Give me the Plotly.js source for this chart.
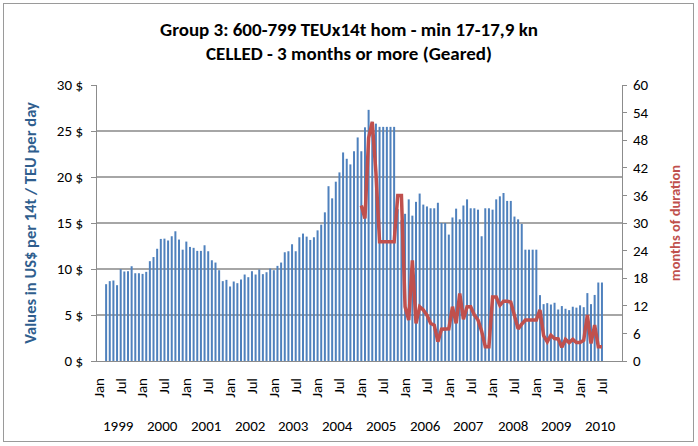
<!DOCTYPE html>
<html>
<head>
<meta charset="utf-8">
<script src="https://cdn.plot.ly/plotly-3.0.1.min.js"></script>
<style>
  html, body { margin: 0; padding: 0; background: #fff; }
  #wrap { position: relative; width: 698px; height: 446px; }
  #chart { position: absolute; left: 0; top: 0; width: 698px; height: 446px; }
  #frame { position: absolute; left: 3px; top: 3px; width: 691px; height: 439px; border: 1px solid #9a9a9a; box-sizing: border-box; pointer-events: none; }
</style>
</head>
<body>
<div id="wrap"><div id="chart"></div><div id="frame"></div></div>
<script>
// Month categories Jan 1999 .. Dec 2010
const years = [1999, 2000, 2001, 2002, 2003, 2004, 2005, 2006, 2007, 2008, 2009, 2010];
const monthNames = ['Jan','Feb','Mar','Apr','May','Jun','Jul','Aug','Sep','Oct','Nov','Dec'];
const categories = [];
years.forEach(y => monthNames.forEach(m => categories.push(m + ' ' + y)));

// Values in US$ per 14t / TEU per day (bars), one per month, null = no data
const rateValues = [
  null, null, 8.35, 8.68, 8.75, 8.24, 9.98, 9.73, 9.76, 10.3, 9.54, 9.54,          // 1999
  9.47, 9.69, 10.85, 11.3, 12.2, 13.27, 13.3, 13.1, 13.56, 14.1, 13.2, 12.1,       // 2000
  12.98, 12.4, 12.3, 11.97, 11.97, 12.58, 11.93, 10.95, 10.7, 9.87, 8.68, 8.82,    // 2001
  8.1, 8.64, 8.46, 8.86, 9.4, 9.11, 9.76, 9.4, 9.94, 9.44, 9.65, 10.05,            // 2002
  9.87, 10.34, 10.7, 11.82, 11.93, 12.69, 11.93, 13.45, 13.85, 13.52, 13.16, 13.45,// 2003
  14.2, 14.82, 16.16, 19.0, 17.68, 19.49, 20.5, 22.67, 21.98, 21.37, 22.8, 24.3,   // 2004
  22.8, 25.4, 27.3, 26.0, 25.8, 25.45, 25.45, 25.45, 25.45, 25.45, 16.5, 15.3,     // 2005
  16.0, 17.57, 15.8, 17.3, 18.2, 17.0, 16.8, 16.6, 16.6, 17.2, 15.0, 15.0,         // 2006
  13.74, 15.6, 16.56, 15.4, 16.9, 17.57, 16.6, 16.6, 16.45, 13.56, 16.6, 16.6,     // 2007
  16.45, 17.57, 17.9, 18.26, 17.4, 17.4, 15.7, 15.4, 14.9, 12.1, 12.1, 12.1,       // 2008
  12.1, 7.16, 6.18, 6.29, 6.14, 6.33, 5.6, 5.97, 5.68, 5.53, 5.9, 5.8,             // 2009
  6.05, 5.85, 7.38, 6.18, 7.18, 8.53, 8.53, null, null, null, null, null           // 2010
];

// Months of duration (line, right axis)
const durationValues = [
  null, null, null, null, null, null, null, null, null, null, null, null,          // 1999
  null, null, null, null, null, null, null, null, null, null, null, null,          // 2000
  null, null, null, null, null, null, null, null, null, null, null, null,          // 2001
  null, null, null, null, null, null, null, null, null, null, null, null,          // 2002
  null, null, null, null, null, null, null, null, null, null, null, null,          // 2003
  null, null, null, null, null, null, null, null, null, null, null, null,          // 2004
  33.8, 31.0, 48.5, 52.0, 41.0, 25.9, 25.9, 25.9, 25.9, 25.9, 36.0, 36.0,         // 2005
  11.8, 8.9, 21.9, 8.2, 11.8, 11.1, 10.0, 8.2, 7.8, 4.2, 6.9, 6.9,                 // 2006
  7.0, 11.8, 8.2, 14.7, 9.1, 11.8, 11.8, 10.0, 8.9, 6.5, 3.1, 3.1,                 // 2007
  13.9, 13.9, 12.1, 13.0, 13.0, 12.8, 9.8, 7.0, 8.0, 8.9, 8.9, 8.9,                // 2008
  8.9, 11.1, 5.5, 4.2, 5.6, 4.9, 4.8, 3.0, 4.7, 4.0, 4.7, 4.0,                     // 2009
  4.0, 4.5, 10.0, 3.8, 7.8, 3.1, 3.1, null, null, null, null, null                 // 2010
];

const tickVals = categories.filter(c => c.startsWith('Jan') || c.startsWith('Jul'));
const tickText = tickVals.map(c => c.split(' ')[0]);
const yearLabels = years.map(String);

const FONT = 'Carlito, Calibri, Lato, "Open Sans", sans-serif';

const traces = [
  {
    type: 'bar',
    x: categories,
    y: rateValues,
    marker: { color: '#4F81BD', line: { width: 0 } },
    yaxis: 'y',
    hoverinfo: 'x+y'
  },
  {
    type: 'scatter',
    mode: 'lines',
    x: categories,
    y: durationValues,
    line: { color: '#C0504D', width: 3.5 },
    yaxis: 'y2',
    connectgaps: false
  }
];

const annotations = yearLabels.map((yr, i) => ({
  x: i * 12 + 5.5,
  xref: 'x',
  y: -0.235,
  yref: 'paper',
  text: yr,
  showarrow: false,
  font: { family: FONT, size: 15, color: '#000' },
  xanchor: 'center',
  yanchor: 'middle'
}));

const layout = {
  width: 698,
  height: 446,
  margin: { l: 97, r: 76, t: 85, b: 85 },
  paper_bgcolor: '#ffffff',
  plot_bgcolor: '#ffffff',
  showlegend: false,
  bargap: 0.45,
  title: {
    text: 'Group 3: 600-799 TEUx14t hom - min 17-17,9 kn<br>CELLED - 3 months or more (Geared)',
    font: { family: FONT, size: 19, color: '#000', weight: 'bold' },
    x: 0.5,
    xanchor: 'center',
    y: 0.92,
    yanchor: 'middle'
  },
  xaxis: {
    type: 'category',
    categoryorder: 'array',
    categoryarray: categories,
    range: [-0.5, categories.length - 0.5],
    tickmode: 'array',
    tickvals: tickVals,
    ticktext: tickText,
    tickangle: -90,
    ticks: '',
    ticklabelstandoff: 10,
    tickfont: { family: FONT, size: 15, color: '#000' },
    showline: true,
    linecolor: '#8c8c8c',
    linewidth: 1,
    showgrid: false,
    zeroline: false,
    fixedrange: true
  },
  yaxis: {
    range: [0, 30],
    dtick: 5,
    tick0: 0,
    ticksuffix: ' $',
    ticks: 'outside',
    ticklen: 5,
    tickcolor: '#8c8c8c',
    ticklabelstandoff: 5,
    tickfont: { family: FONT, size: 15, color: '#000' },
    showline: true,
    linecolor: '#8c8c8c',
    linewidth: 1,
    showgrid: true,
    gridcolor: '#a6a6a6',
    gridwidth: 1.2,
    zeroline: false,
    title: {
      text: 'Values in US$ per 14t / TEU per day',
      font: { family: FONT, size: 16.5, color: '#2F5E8E', weight: 'bold' },
      standoff: 16
    },
    fixedrange: true
  },
  yaxis2: {
    overlaying: 'y',
    side: 'right',
    range: [0, 60],
    dtick: 6,
    tick0: 0,
    ticks: 'outside',
    ticklen: 4,
    tickcolor: '#8c8c8c',
    ticklabelstandoff: 3,
    tickfont: { family: FONT, size: 15, color: '#000' },
    showline: true,
    linecolor: '#8c8c8c',
    linewidth: 1,
    showgrid: false,
    zeroline: false,
    title: {
      text: 'months of duration',
      font: { family: FONT, size: 14.5, color: '#C0504D', weight: 'bold' },
      standoff: 22
    },
    fixedrange: true
  },
  annotations: annotations
};

Plotly.newPlot('chart', traces, layout, { displayModeBar: false, staticPlot: true });
</script>
</body>
</html>
